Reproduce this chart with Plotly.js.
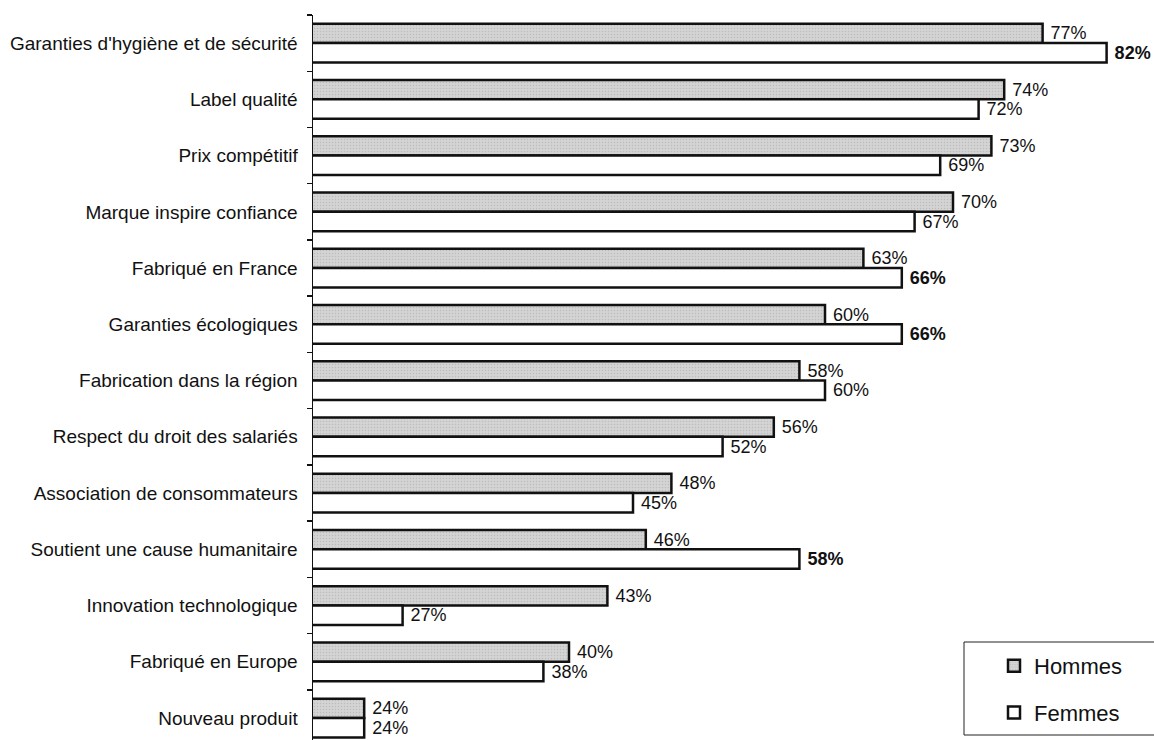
<!DOCTYPE html>
<html>
<head>
<meta charset="utf-8">
<script src="https://cdn.plot.ly/plotly-3.0.1.min.js"></script>
<style>
  html, body { margin: 0; padding: 0; background: #ffffff; }
  #chart { width: 1154px; height: 740px; }
</style>
</head>
<body>
<div id="chart"></div>
<script>
// Critères de choix d'un produit, par sexe (en %)
const categories = [
  "Garanties d'hygiène et de sécurité",
  "Label qualité",
  "Prix compétitif",
  "Marque inspire confiance",
  "Fabriqué en France",
  "Garanties écologiques",
  "Fabrication dans la région",
  "Respect du droit des salariés",
  "Association de consommateurs",
  "Soutient une cause humanitaire",
  "Innovation technologique",
  "Fabriqué en Europe",
  "Nouveau produit"
];
const hommes = [77, 74, 73, 70, 63, 60, 58, 56, 48, 46, 43, 40, 24];
const femmes = [82, 72, 69, 67, 66, 66, 60, 52, 45, 58, 27, 38, 24];
// écarts marqués en faveur des femmes, affichés en gras
const femmesEnGras = [true, false, false, false, true, true, false, false, false, true, false, false, false];

const FONT = "Liberation Sans, Arial, Helvetica, sans-serif";
const NBSP = "\u00a0";

const traceHommes = {
  type: "bar",
  orientation: "h",
  name: "Hommes",
  legendgroup: "h",
  y: categories,
  x: hommes,
  text: hommes.map(v => NBSP + v + "%"),
  textposition: "outside",
  constraintext: "none",
  cliponaxis: false,
  textfont: { family: FONT, size: 18, color: "#111" },
  marker: {
    color: "#d0d0d0",
    line: { color: "#111", width: 2.5 },
    pattern: { shape: ".", fgcolor: "#bcbcbc", bgcolor: "#d4d4d4", size: 3, solidity: 0.2 }
  },
  hoverinfo: "skip"
};

const traceFemmes = {
  type: "bar",
  orientation: "h",
  name: "Femmes",
  legendgroup: "f",
  y: categories,
  x: femmes,
  text: femmes.map((v, i) => femmesEnGras[i] ? NBSP + "<b>" + v + "%</b>" : NBSP + v + "%"),
  textposition: "outside",
  constraintext: "none",
  cliponaxis: false,
  textfont: { family: FONT, size: 18, color: "#111" },
  marker: {
    color: "#ffffff",
    line: { color: "#111", width: 2.5 }
  },
  hoverinfo: "skip"
};

// zone de tracé : 313 → 1145 px en x, 15 → 740 px en y
const plotL = 313, plotR = 1145, plotT = 15, plotB = 740;
const px = x => (x - plotL) / (plotR - plotL);
const py = y => (plotB - y) / (plotB - plotT);

const layout = {
  width: 1154,
  height: 740,
  margin: { l: plotL, r: 1154 - plotR, t: plotT, b: 740 - plotB, pad: 0 },
  paper_bgcolor: "#ffffff",
  plot_bgcolor: "#ffffff",
  font: { family: FONT, color: "#111" },
  barmode: "group",
  bargap: 0.31,
  bargroupgap: 0,
  showlegend: true,
  xaxis: {
    range: [20, 85],
    visible: false,
    fixedrange: true
  },
  yaxis: {
    type: "category",
    categoryorder: "array",
    categoryarray: categories,
    range: [12.39, -0.5],
    showline: true,
    linecolor: "#111",
    linewidth: 1.5,
    ticks: "outside",
    tickson: "boundaries",
    ticklen: 5,
    tickwidth: 1.5,
    tickcolor: "#111",
    ticklabelstandoff: 10,
    showgrid: false,
    zeroline: false,
    tickfont: { family: FONT, size: 19, color: "#111" },
    fixedrange: true
  },
  legend: {
    x: px(994),
    y: py(645),
    xanchor: "left",
    yanchor: "top",
    traceorder: "grouped",
    tracegroupgap: 15,
    bgcolor: "rgba(0,0,0,0)",
    borderwidth: 0,
    font: { family: FONT, size: 22, color: "#111" }
  },
  shapes: [{
    type: "rect",
    xref: "paper", yref: "paper",
    x0: px(964), x1: px(1162),
    y0: py(642), y1: py(735),
    line: { color: "#222", width: 1 },
    fillcolor: "rgba(0,0,0,0)",
    layer: "above"
  }]
};

Plotly.newPlot("chart", [traceHommes, traceFemmes], layout, { displayModeBar: false, staticPlot: true });
</script>
</body>
</html>
